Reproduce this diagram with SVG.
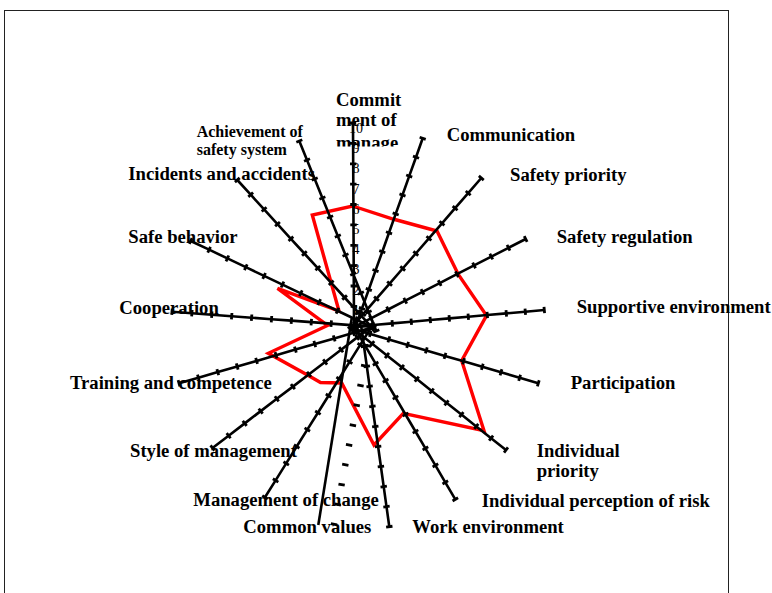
<svg xmlns="http://www.w3.org/2000/svg" width="772" height="593" viewBox="0 0 772 593">
<style>
.ax{fill:none;stroke:#000;stroke-width:2.6;marker-start:url(#tick);marker-mid:url(#tick);marker-end:url(#tick)}
.gh{fill:none;stroke:none;marker-mid:url(#tick);marker-end:url(#tick)}
.pl{fill:none;stroke:#000;stroke-width:2.6}
.lb{font-family:"Liberation Serif","Times New Roman",serif;font-weight:bold;font-size:18.67px;fill:#000}
.sm{font-size:16px}
.nm{font-family:"Liberation Serif","Times New Roman",serif;font-size:14px;fill:#000;text-anchor:middle}
</style>
<defs>
<marker id="tick" markerUnits="userSpaceOnUse" viewBox="-4 -4 8 8" markerWidth="8" markerHeight="8" refX="0" refY="0" orient="auto" overflow="visible">
<rect x="-1.4" y="-3.2" width="2.8" height="6.4" fill="#000"/>
</marker>
<clipPath id="clipM"><rect x="300" y="80" width="120" height="66.5"/></clipPath>
</defs>
<rect width="772" height="593" fill="#fff"/>
<rect id="frame" x="4.5" y="10.5" width="724" height="600" fill="none" stroke="#222" stroke-width="1"/>

<g id="series">
<polygon points="352.7,206 393,219 437,231 458.3,274.5 486.5,315.5 461.7,360.7 484,430.7 403.3,413.3 374,445 341.7,383 320.5,382.5 307.5,375 268.3,353.3 327.5,325.5 277.5,288.3 339,311 312.3,215" fill="none" stroke="#ff0000" stroke-width="3.4" stroke-linejoin="miter"/>
</g>

<g id="label-commitment" class="lb">
<text x="336" y="106">Commit</text>
<text x="336" y="126">ment of</text>
<text x="336" y="148.5" clip-path="url(#clipM)">manage</text>
</g>
<g id="label-communication"><text class="lb" x="446.7" y="140.7">Communication</text></g>
<g id="label-safety-priority"><text class="lb" x="510" y="181">Safety priority</text></g>
<g id="label-safety-regulation"><text class="lb" x="556.7" y="242.7">Safety regulation</text></g>
<g id="label-supportive-environment"><text class="lb" x="576.7" y="313.3">Supportive environment</text></g>
<g id="label-participation"><text class="lb" x="570.7" y="389.3">Participation</text></g>
<g id="label-individual-priority" class="lb">
<text x="536.7" y="456.7">Individual</text>
<text x="536.7" y="477">priority</text>
</g>
<g id="label-individual-perception"><text class="lb" x="481.7" y="506.7">Individual perception of risk</text></g>
<g id="label-work-environment"><text class="lb" x="412.3" y="533.3">Work environment</text></g>
<g id="label-common-values"><text class="lb" x="243.3" y="533.3">Common values</text></g>
<g id="label-management-of-change"><text class="lb" x="193.3" y="506">Management of change</text></g>
<g id="label-style-of-management"><text class="lb" x="130" y="456.7">Style of management</text></g>
<g id="label-training"><text class="lb" x="70" y="389.3">Training and competence</text></g>
<g id="label-cooperation"><text class="lb" x="119.3" y="314.3">Cooperation</text></g>
<g id="label-safe-behavior"><text class="lb" x="128.3" y="242.7">Safe behavior</text></g>
<g id="label-incidents"><text class="lb" x="128.3" y="180">Incidents and accidents</text></g>
<g id="label-achievement" class="lb sm">
<text x="196.7" y="137.3">Achievement of</text>
<text x="196.7" y="155">safety system</text>
</g>

<g id="axes">
<polyline class="ax" points="354,326.8 353.9,306.4 353.8,286 353.7,265.7 353.6,245.3 353.5,224.9 353.4,204.5 353.3,184.1 353.2,163.8 353.1,143.4 353,123"/>
<polyline class="ax" points="355.3,327.3 362,308.4 368.8,289.5 375.5,270.6 382.3,251.7 389,232.8 395.7,213.9 402.5,195 409.2,176.1 416,157.2 422.7,138.3"/>
<polyline class="ax" points="350.3,328.9 363.4,313.8 376.5,298.7 389.6,283.6 402.7,268.5 415.8,253.5 428.9,238.4 442,223.3 455.1,208.2 468.2,193.1 481.3,178"/>
<polyline class="ax" points="353.7,327.1 370.9,318.3 388.1,309.5 405.3,300.7 422.5,291.9 439.7,283.1 456.9,274.2 474.1,265.4 491.3,256.6 508.5,247.8 525.7,239"/>
<polyline class="ax" points="354.3,326.7 373.3,325 392.3,323.4 411.3,321.7 430.3,320 449.3,318.4 468.3,316.7 487.3,315 506.3,313.4 525.3,311.7 544.3,310"/>
<polyline class="ax" points="351.6,328.4 370.3,333.9 388.9,339.4 407.6,344.9 426.3,350.4 445,355.9 463.6,361.3 482.3,366.8 501,372.3 519.6,377.8 538.3,383.3"/>
<polyline class="ax" points="357.3,331.9 372.2,343.7 387,355.5 401.9,367.3 416.8,379.1 431.7,391 446.5,402.8 461.4,414.6 476.3,426.4 491.1,438.2 506,450"/>
<polyline class="ax" points="355.7,329.7 365.7,346.7 375.6,363.6 385.6,380.6 395.5,397.5 405.5,414.5 415.5,431.5 425.4,448.4 435.4,465.4 445.3,482.3 455.3,499.3"/>
<polyline class="ax" points="361.2,326.2 364,346.3 366.8,366.3 369.6,386.4 372.4,406.4 375.3,426.5 378.1,446.5 380.9,466.5 383.7,486.6 386.5,506.6 389.3,526.7"/>
<line class="pl" x1="351.8" y1="318" x2="318.3" y2="525"/>
<polyline class="gh" points="371.8,326 368,345.8 364.2,365.7 360.5,385.5 356.7,405.3 352.9,425.2 349.1,445 345.3,464.8 341.6,484.6 337.8,504.5 334,524.3"/>
<polyline class="ax" points="370.8,328 360.2,344.9 349.6,361.9 339.1,378.8 328.5,395.7 317.9,412.7 307.3,429.6 296.7,446.5 286.2,463.4 275.6,480.4 265,497.3"/>
<polyline class="ax" points="373.3,325.1 357.2,337.4 341.1,349.7 325.1,362 309,374.3 292.9,386.6 276.8,398.8 260.7,411.1 244.7,423.4 228.6,435.7 212.5,448"/>
<polyline class="ax" points="373,327.2 353.6,332.8 334.2,338.4 314.8,344 295.4,349.6 276,355.3 256.6,360.9 237.2,366.5 217.8,372.1 198.4,377.7 179,383.3"/>
<polyline class="ax" points="371,326.6 351.1,325.1 331.2,323.6 311.3,322.1 291.4,320.6 271.5,319.2 251.6,317.7 231.7,316.2 211.8,314.7 191.9,313.2 172,311.7"/>
<polyline class="ax" points="374.2,328.2 355.9,319.5 337.5,310.8 319.2,302.1 300.8,293.3 282.5,284.6 264.1,275.9 245.8,267.2 227.4,258.4 209.1,249.7 190.7,241"/>
<polyline class="ax" points="371.4,326.9 358,312.2 344.6,297.5 331.2,282.8 317.8,268.1 304.4,253.5 290.9,238.8 277.5,224.1 264.1,209.4 250.7,194.7 237.3,180"/>
<polyline class="ax" points="376.3,331 368.6,312 360.9,293 353.2,274 345.5,255 337.8,236 330.1,217 322.4,198 314.7,179 307,160 299.3,141"/>
</g>

<g id="scale">
<text class="nm" x="356" y="133">10</text>
<text class="nm" x="356" y="153.2">9</text>
<text class="nm" x="356" y="173.4">8</text>
<text class="nm" x="356" y="193.6">7</text>
<text class="nm" x="356" y="213.8">6</text>
<text class="nm" x="356" y="234">5</text>
<text class="nm" x="356" y="254.2">4</text>
<text class="nm" x="356" y="274.4">3</text>
<text class="nm" x="356" y="294.6">2</text>
<text class="nm" x="356" y="314.8">1</text>
</g>
</svg>
